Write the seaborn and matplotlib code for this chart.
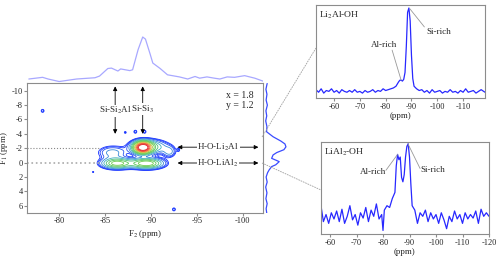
import numpy as np
import matplotlib
matplotlib.use("Agg")
import matplotlib.pyplot as plt
from matplotlib.lines import Line2D
import seaborn as sns

# --- top projection (F2) ---
f2_proj_ppm = [-76.7, -78.2, -78.8, -80.0, -81.9, -83.9, -84.4, -85.3, -85.7, -86.4, -86.7, -87.7,
               -88.0, -88.6, -89.1, -89.4, -89.9, -90.2, -91.0, -91.8, -93.1, -94.0, -94.8, -95.3,
               -96.1, -96.9, -97.5, -98.3, -99.1, -100.2, -101.3, -102.2]
f2_proj_int = [0.0, 0.04, 0.0, -0.06, 0.0, 0.03, 0.07, 0.25, 0.26, 0.19, 0.24, 0.2,
               0.22, 0.7, 1.0, 0.95, 0.6, 0.38, 0.25, 0.1, 0.05, 0.0, 0.06, 0.02,
               0.05, 0.02, 0.0, 0.05, 0.04, 0.08, 0.02, -0.05]

# --- right projection (F1) ---
f1_proj_ppm = [-11.0, -10.2, -9.5, -8.7, -8.0, -7.2, -6.5, -5.8, -5.0, -4.3, -3.6, -3.0, -2.6,
               -2.2, -1.8, -1.4, -1.07, -0.6, -0.14, 0.3, 0.55, 1.0, 1.4, 2.0, 2.7, 3.4, 4.2,
               5.0, 5.7, 6.4, 7.0]
f1_proj_int = [0.08, 0.02, 0.07, 0.03, 0.09, 0.02, 0.06, 0.01, 0.07, 0.05, 0.37, 0.75, 0.95,
               1.0, 0.9, 0.55, 0.37, 0.3, 0.67, 0.5, 0.3, 0.18, 0.1, 0.03, 0.08, 0.01, 0.07,
               0.02, 0.08, 0.03, 0.06]

# --- 2D peaks: F2 centre, F1 centre, amplitude, F2 width, F1 width ---
pk_f2 = [-89.1, -89.8, -86.3, -89.5, -85.8, -92.0, -78.2, -92.5, -87.2, -88.3, -89.3, -83.7, -93.0]
pk_f1 = [-2.1, -2.2, 0.1, 0.1, -1.4, -1.5, -7.2, 6.5, -4.2, -4.3, -4.3, 1.3, -1.8]
pk_amp = [0.9, 0.22, 0.35, 0.38, 0.11, 0.1, 0.06, 0.06, 0.05, 0.06, 0.06, 0.05, 0.05]
pk_wx = [0.6, 1.2, 1.0, 1.1, 1.0, 0.45, 0.15, 0.15, 0.12, 0.15, 0.15, 0.08, 0.12]
pk_wy = [0.5, 0.6, 0.45, 0.45, 0.6, 0.5, 0.2, 0.2, 0.15, 0.2, 0.2, 0.1, 0.2]
levels = [0.035, 0.045, 0.06, 0.09, 0.13, 0.18, 0.24, 0.3, 0.4, 0.5, 0.6, 0.7, 0.8]
level_colors = ["#1530ff", "#1838ff", "#2a55f0", "#3a8ad8", "#40b0c0", "#50c078", "#58c858",
                "#70cc50", "#a8c840", "#f0a030", "#f06030", "#e83030", "#e02020"]

# --- insets ---
li2_ppm = [-53, -54, -55, -56, -57, -58, -59, -60, -61, -62, -63, -64, -65, -66, -67, -68, -69, -70,
           -71, -72, -73, -74, -75, -76, -77, -78, -79, -80, -81, -82, -83, -84, -85, -85.5, -86,
           -86.5, -87, -87.5, -88, -88.5, -89, -89.5, -90, -90.5, -91, -92, -93, -94, -95, -96, -97,
           -98, -99, -100, -101, -102, -103, -104, -105, -106, -107, -108, -109, -110, -111, -112,
           -113, -114, -115, -116, -117, -118.5]
li2_int = [0.05, 0.02, 0.06, 0.01, 0.04, 0.03, 0.06, 0.02, 0.04, 0.01, 0.05, 0.03, 0.02, 0.04, 0.02,
           0.05, 0.02, 0.03, 0.01, 0.04, 0.02, 0.03, 0.05, 0.02, 0.04, 0.03, 0.06, 0.04, 0.05, 0.06,
           0.07, 0.09, 0.14, 0.16, 0.16, 0.15, 0.17, 0.25, 0.55, 0.95, 1.0, 0.85, 0.45, 0.18, 0.09,
           0.06, 0.04, 0.05, 0.02, 0.04, 0.01, 0.05, 0.02, 0.03, 0.04, 0.01, 0.03, 0.02, 0.05, 0.02,
           0.03, 0.01, 0.04, 0.02, 0.06, 0.02, 0.03, 0.04, 0.01, 0.03, 0.05, 0.02]

lial2_ppm = [-56.6, -57.5, -58.5, -59.5, -60.5, -61.5, -62.5, -63.5, -64.5, -65.5, -66.5, -67.5, -68.5,
             -69.5, -70.5, -71.5, -72.5, -73.5, -74.5, -75.5, -76.5, -77.5, -78.5, -79.5, -80, -80.5,
             -81.5, -82.5, -83.5, -84.5, -85, -85.5, -86, -86.5, -87, -87.5, -88, -88.5, -89, -89.5,
             -90, -90.5, -91, -92, -93, -94, -95, -96, -97, -98, -99, -100, -101, -102, -103, -104,
             -105, -106, -107, -108, -109, -110, -111, -112, -113, -114, -115, -116, -117, -118, -119,
             -120]
lial2_int = [0.30, 0.12, 0.20, 0.10, 0.22, 0.15, 0.24, 0.12, 0.26, 0.10, 0.18, 0.30, 0.14, 0.20, 0.08,
             0.22, 0.16, 0.28, 0.12, 0.25, 0.18, 0.32, 0.15, 0.20, 0.02, 0.25, 0.30, 0.28, 0.38, 0.45,
             0.75, 0.88, 0.82, 0.85, 0.62, 0.57, 0.65, 0.85, 0.97, 1.0, 0.85, 0.55, 0.30, 0.25, 0.10,
             0.22, 0.18, 0.25, 0.12, 0.22, 0.15, 0.20, 0.10, 0.22, 0.14, 0.04, 0.18, 0.12, 0.24, 0.15,
             0.20, 0.10, 0.22, 0.15, 0.20, 0.16, 0.24, 0.10, 0.26, 0.18, 0.22, 0.18]

sns.set_style("ticks")
plt.rcParams["font.family"] = ["Liberation Serif", "DejaVu Serif"]
plt.rcParams["mathtext.fontset"] = "stix"
plt.rcParams["axes.unicode_minus"] = False
plt.rcParams["font.size"] = 6.5
plt.rcParams["xtick.labelsize"] = 6
plt.rcParams["ytick.labelsize"] = 6

fig = plt.figure(figsize=(5.0, 2.58), dpi=100)
W, H = 500.0, 258.0

def box(l, t, r, b):
    return [l / W, 1 - b / H, (r - l) / W, (b - t) / H]

spine_c = "#8c8c8c"

# main 2D
ax = fig.add_axes(box(27, 83, 263, 213))
g2 = np.linspace(-76.5, -102.2, 500)
g1 = np.linspace(-11.1, 7.0, 400)
X, Y = np.meshgrid(g2, g1)
Z = np.zeros_like(X)
for c2, c1, a, wx, wy in zip(pk_f2, pk_f1, pk_amp, pk_wx, pk_wy):
    Z += a * np.exp(-0.5 * (((X - c2) / wx) ** 2 + ((Y - c1) / wy) ** 2))
ax.contour(X, Y, Z, levels=levels, colors=level_colors, linewidths=0.6)
ax.set_xlim(-76.5, -102.2)
ax.set_ylim(7.0, -11.07)
ax.set_xticks([-80, -85, -90, -95, -100])
ax.set_yticks([-10, -8, -6, -4, -2, 0, 2, 4, 6])
ax.set_xlabel("F$_2$ (ppm)", labelpad=2)
ax.set_ylabel("F$_1$ (ppm)", fontsize=6.3)
ax.yaxis.set_label_coords(-0.07, 0.5)
ax.tick_params(length=2, pad=1, color=spine_c)
for s in ax.spines.values():
    s.set_color(spine_c)

ax.plot([-76.5, -84.5], [-2.1, -2.1], ls=":", color="#888888", lw=0.8)
ax.plot([-76.5, -84.5], [0.0, 0.0], ls=":", color="#aaaaaa", lw=1.2)

arr = dict(arrowstyle="<|-|>", lw=0.6, color="k", mutation_scale=6, shrinkA=0, shrinkB=0)
ax.annotate("", xy=(-86.1, -10.6), xytext=(-86.1, -4.0), arrowprops=arr)
ax.annotate("", xy=(-89.1, -10.6), xytext=(-89.1, -4.0), arrowprops=arr)
wb = dict(facecolor="white", edgecolor="none", pad=0.5)
ax.text(-86.1, -7.2, "Si-Si$_2$Al", ha="center", va="center", fontsize=6.5, bbox=wb)
ax.text(-89.1, -7.45, "Si-Si$_3$", ha="center", va="center", fontsize=6.5, bbox=wb)
ax.text(-98.2, -8.6, "x = 1.8\ny = 1.2", ha="left", va="center", fontsize=7, linespacing=1.15)
ax.annotate("", xy=(-92.9, -2.15), xytext=(-101.7, -2.15), arrowprops=arr)
ax.annotate("", xy=(-92.9, 0.05), xytext=(-101.7, 0.05), arrowprops=arr)
ax.text(-97.3, -2.15, "H-O-Li$_2$Al", ha="center", va="center", fontsize=6.5, bbox=wb)
ax.text(-97.3, 0.05, "H-O-LiAl$_2$", ha="center", va="center", fontsize=6.5, bbox=wb)

# top projection
axt = fig.add_axes(box(27, 30, 263, 83))
sns.lineplot(x=f2_proj_ppm, y=f2_proj_int, ax=axt, color="#a8a8ff", lw=0.9, sort=False)
axt.set_xlim(-76.5, -102.2)
axt.set_ylim(-0.095, 1.167)
axt.axis("off")

# right projection
axr = fig.add_axes(box(263, 83, 290, 213))
sns.lineplot(x=f1_proj_int, y=f1_proj_ppm, ax=axr, color="#3a4cff", lw=0.9, sort=False, orient="y")
axr.set_ylim(7.0, -11.07)
axr.set_xlim(-0.123, 1.198)
axr.axis("off")

# inset 1
a1 = fig.add_axes(box(316, 5, 485, 98))
sns.lineplot(x=li2_ppm, y=li2_int, ax=a1, color="#2828ff", lw=0.9, sort=False)
a1.set_xlim(-53, -118.5)
a1.set_ylim(-0.047, 1.035)
a1.set_yticks([])
a1.set_xticks([-60, -70, -80, -90, -100, -110])
a1.set_xlabel("(ppm)", labelpad=1)
a1.text(0.02, 0.95, "Li$_2$Al-OH", transform=a1.transAxes, ha="left", va="top", fontsize=6.8)
a1.plot([-89.4, -95.0], [0.99, 0.78], color="#999999", lw=0.6)
a1.text(-100.5, 0.72, "Si-rich", ha="center", va="center", fontsize=6.5)
a1.plot([-82.5, -86.0], [0.51, 0.16], color="#999999", lw=0.6)
a1.text(-79.4, 0.57, "Al-rich", ha="center", va="center", fontsize=6.5)

# inset 2
a2 = fig.add_axes(box(321, 142, 489, 234))
sns.lineplot(x=lial2_ppm, y=lial2_int, ax=a2, color="#2828ff", lw=0.9, sort=False)
a2.set_xlim(-56.6, -120)
a2.set_ylim(-0.02, 1.02)
a2.set_yticks([])
a2.set_xticks([-60, -70, -80, -90, -100, -110, -120])
a2.set_xlabel("(ppm)", labelpad=1)
a2.text(0.02, 0.95, "LiAl$_2$-OH", transform=a2.transAxes, ha="left", va="top", fontsize=6.8)
a2.plot([-89.4, -94.0], [1.0, 0.72], color="#999999", lw=0.6)
a2.text(-98.9, 0.70, "Si-rich", ha="center", va="center", fontsize=6.5)
a2.plot([-81.1, -85.5], [0.70, 0.88], color="#999999", lw=0.6)
a2.text(-76.2, 0.68, "Al-rich", ha="center", va="center", fontsize=6.5)

for a in (a1, a2):
    a.tick_params(length=2, pad=1.5, color=spine_c)
    for s in a.spines.values():
        s.set_color(spine_c)

# connector lines
fig.add_artist(Line2D([262 / W, 316 / W], [1 - 137 / H, 1 - 48 / H], color="#a0a0a0", lw=0.6, ls=(0, (2, 1))))
fig.add_artist(Line2D([262 / W, 321 / W], [1 - 163 / H, 1 - 190 / H], color="#a0a0a0", lw=0.6, ls=(0, (2, 1))))

fig.savefig("out.png", dpi=100)
